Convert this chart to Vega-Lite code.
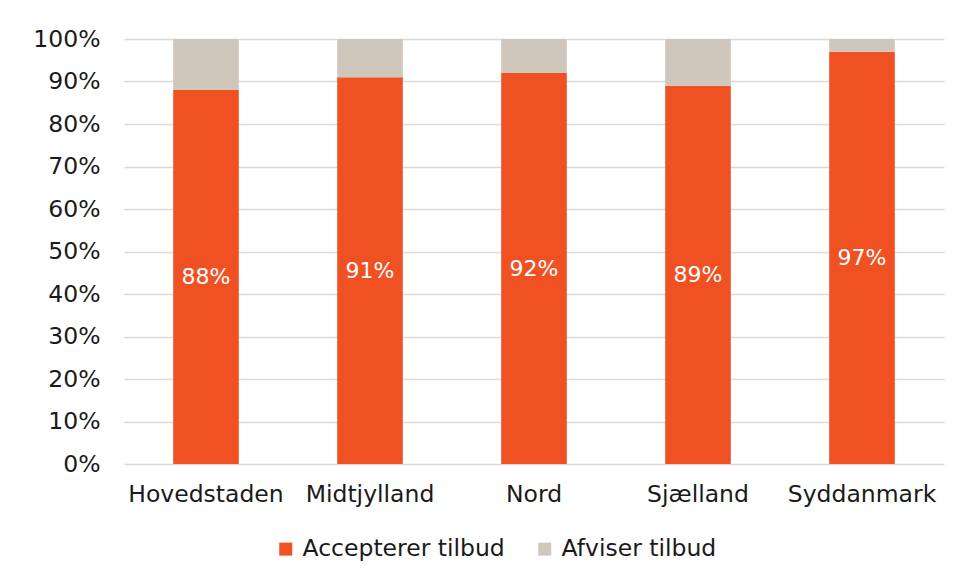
{
  "$schema": "https://vega.github.io/schema/vega-lite/v6.json",
  "autosize": "none",
  "width": 820,
  "height": 425,
  "padding": {"left": 124, "top": 39, "right": 15, "bottom": 116},
  "background": "white",
  "config": {
    "font": "DejaVu Sans",
    "view": {"stroke": null},
    "axis": {"labelFont": "DejaVu Sans", "labelFontSize": 23.5, "labelColor": "#1a1a1a"}
  },
  "data": {
    "values": [
      {"region": "Hovedstaden", "status": "Accepterer tilbud", "value": 0.88},
      {"region": "Hovedstaden", "status": "Afviser tilbud", "value": 0.12},
      {"region": "Midtjylland", "status": "Accepterer tilbud", "value": 0.91},
      {"region": "Midtjylland", "status": "Afviser tilbud", "value": 0.09},
      {"region": "Nord", "status": "Accepterer tilbud", "value": 0.92},
      {"region": "Nord", "status": "Afviser tilbud", "value": 0.08},
      {"region": "Sjælland", "status": "Accepterer tilbud", "value": 0.89},
      {"region": "Sjælland", "status": "Afviser tilbud", "value": 0.11},
      {"region": "Syddanmark", "status": "Accepterer tilbud", "value": 0.97},
      {"region": "Syddanmark", "status": "Afviser tilbud", "value": 0.03}
    ]
  },
  "encoding": {
    "x": {
      "field": "region",
      "type": "nominal",
      "sort": null,
      "title": null,
      "scale": {"paddingInner": 0.6, "paddingOuter": 0.3},
      "axis": {"labelAngle": 0, "ticks": false, "domain": false, "labelPadding": 18, "labelLimit": 0}
    }
  },
  "layer": [
    {
      "mark": {"type": "bar"},
      "encoding": {
        "y": {
          "field": "value",
          "type": "quantitative",
          "stack": "zero",
          "title": null,
          "scale": {"domain": [0, 1]},
          "axis": {
            "format": ".0%",
            "values": [0, 0.1, 0.2, 0.3, 0.4, 0.5, 0.6, 0.7, 0.8, 0.9, 1],
            "labelOverlap": false,
            "ticks": false,
            "domain": false,
            "grid": true,
            "gridColor": "#d9d9d9",
            "gridWidth": 1.5,
            "labelPadding": 24
          }
        },
        "color": {
          "field": "status",
          "type": "nominal",
          "scale": {"domain": ["Accepterer tilbud", "Afviser tilbud"], "range": ["#F05123", "#D0C7BC"]},
          "legend": {
            "title": null,
            "orient": "none",
            "direction": "horizontal",
            "legendX": 150,
            "legendY": 498,
            "symbolType": "square",
            "symbolSize": 169,
            "symbolStrokeWidth": 0,
            "labelFontSize": 23.5,
            "labelFont": "DejaVu Sans",
            "labelColor": "#1a1a1a",
            "labelLimit": 0,
            "labelOffset": 5,
            "columnPadding": 28
          }
        },
        "order": {"field": "status", "sort": "ascending"}
      }
    },
    {
      "transform": [{"filter": "datum.status === 'Accepterer tilbud'"}],
      "mark": {"type": "text", "color": "white", "fontSize": 22, "baseline": "middle", "font": "DejaVu Sans"},
      "encoding": {
        "y": {"field": "value", "type": "quantitative", "scale": {"domain": [0, 2]}, "axis": null},
        "text": {"field": "value", "type": "quantitative", "format": ".0%"}
      }
    }
  ],
  "resolve": {"scale": {"y": "independent"}}
}
